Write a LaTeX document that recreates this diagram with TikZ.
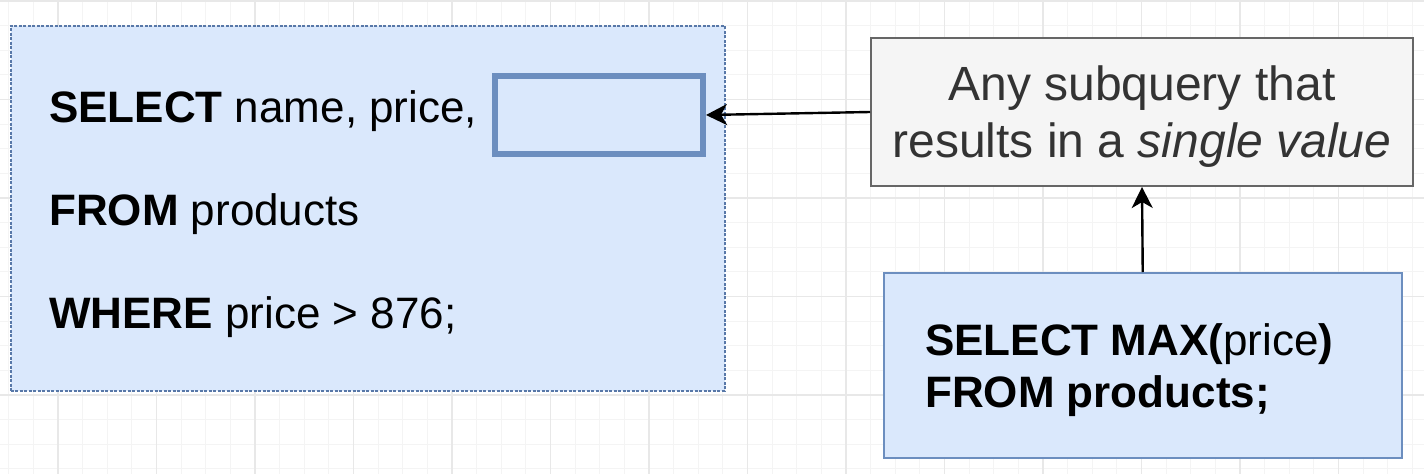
\documentclass[tikz,border=0pt]{standalone}
\usepackage{fontspec}
\setmainfont{Liberation Sans}
\usetikzlibrary{arrows.meta}
\definecolor{qfill}{HTML}{DAE8FC}
\definecolor{qline}{HTML}{6C8EBF}
\definecolor{selline}{HTML}{5878A8}
\definecolor{notefill}{HTML}{F5F5F5}
\definecolor{noteline}{HTML}{666666}
\definecolor{notetext}{HTML}{333333}
\definecolor{gridminor}{HTML}{F4F4F4}
\definecolor{gridmajor}{HTML}{E8E8E8}
\tikzset{
  qbox/.style={draw=qline,fill=qfill,line width=1.5pt,inner sep=0pt,anchor=north west},
  sqltext/.style={anchor=base west,inner sep=0pt,font=\fontsize{44}{52.8}\selectfont},
  link/.style={line width=2.4pt,arrows={-Stealth[length=21pt,width=21pt,inset=6pt]}}
}

\begin{document}
\begin{tikzpicture}[x=1pt,y=-1pt]
        \useasboundingbox[fill=white] (0,0) rectangle (1424,474);
        % canvas grid
        \foreach \i in {-2,...,56}
          \draw[gridminor,line width=1pt] ({58+24.625*\i},0) -- ({58+24.625*\i},474);
        \foreach \i in {0,...,19}
          \draw[gridminor,line width=1pt] (0,{1+24.625*\i}) -- (1424,{1+24.625*\i});
        \foreach \i in {-1,...,14}
          \draw[gridmajor,line width=1.2pt] ({58+98.5*\i},0) -- ({58+98.5*\i},474);
        \foreach \i in {0,...,4}
          \draw[gridmajor,line width=1.2pt] (0,{1+98.5*\i}) -- (1424,{1+98.5*\i});

        % outer query
        \node[qbox,draw=selline,dash pattern=on 3pt off 1.5pt,minimum width=714pt,minimum height=365pt] (outer) at (10,25) {};
        \node[qbox,line width=6pt,minimum width=208pt,minimum height=78pt] (slot) at (492,73) {};
        \node[sqltext] (selectline) at (49,122) {\textbf{SELECT} name, price,};
        \node[sqltext] (fromline) at (49,225) {\textbf{FROM} products};
        \node[sqltext] (whereline) at (49,328) {\textbf{WHERE} price > 876;};

        % note
        \node[draw=noteline,fill=notefill,line width=2pt,minimum width=542pt,minimum height=148pt,
              inner sep=0pt] (note) at (1142,112) {};
        \node[text=notetext,align=center,inner sep=0pt,font=\fontsize{48}{57}\selectfont] (notetext) at (1142,117)
              {Any subquery that\\results in a \textit{single value}};

        % subquery
        \node[qbox,minimum width=518pt,minimum height=185pt] (maxbox) at (883,272) {};
        \node[sqltext] (maxsel) at (925,355) {\textbf{SELECT MAX(}price\textbf{)}};
        \node[sqltext] (maxfrom) at (925,407) {\textbf{FROM products;}};

        \draw[link] (note.west) -- (slot.east);
        \draw[link] (maxbox.north) -- (note.south);
    \end{tikzpicture}
\end{document}
